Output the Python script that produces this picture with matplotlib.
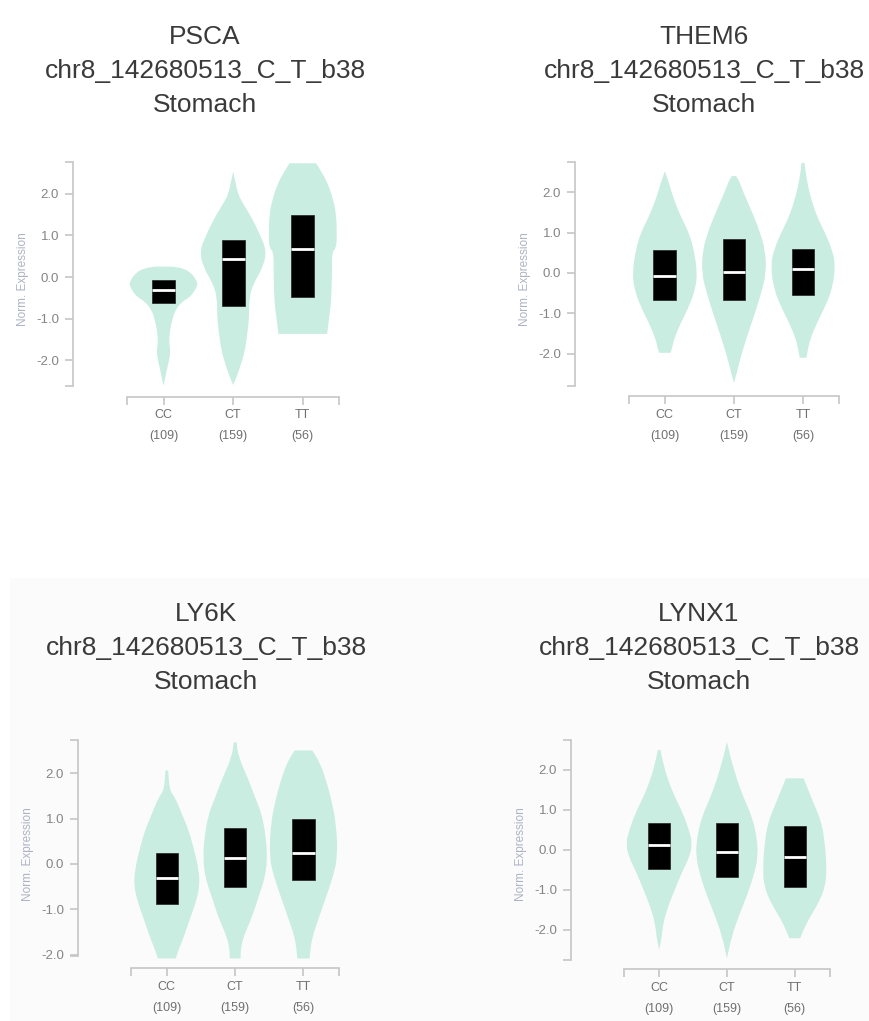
import numpy as np
import matplotlib.pyplot as plt
from matplotlib.patches import Rectangle, PathPatch
from matplotlib.path import Path

plt.rcParams['font.family'] = ['Liberation Sans', 'DejaVu Sans']

genes = ['PSCA', 'THEM6', 'LY6K', 'LYNX1']
snp = 'chr8_142680513_C_T_b38'
tissue = 'Stomach'
genotypes = ['CC', 'CT', 'TT']
counts = [109, 159, 56]
yticks = [2.0, 1.0, 0.0, -1.0, -2.0]

# box values: (q1, median, q3) for CC, CT, TT
psca_box = [(-0.63, -0.31, -0.08), (-0.70, 0.43, 0.88), (-0.48, 0.68, 1.50)]
them6_box = [(-0.68, -0.07, 0.58), (-0.68, 0.02, 0.83), (-0.55, 0.11, 0.60)]
ly6k_box = [(-0.89, -0.31, 0.24), (-0.51, 0.14, 0.80), (-0.36, 0.25, 0.98)]
lynx1_box = [(-0.48, 0.13, 0.68), (-0.67, -0.04, 0.68), (-0.92, -0.19, 0.60)]

# violin outlines: (expression, half width), top to bottom
psca_cc = [(0.25, 0.12), (0.21, 0.28), (0.1, 0.40), (-0.1, 0.48), (-0.2, 0.49),
           (-0.35, 0.44), (-0.48, 0.38), (-0.6, 0.26), (-0.8, 0.17), (-1.0, 0.13),
           (-1.3, 0.09), (-1.6, 0.08), (-1.8, 0.10), (-2.0, 0.08), (-2.3, 0.04), (-2.62, 0.0)]
psca_ct = [(2.54, 0.0), (2.3, 0.03), (2.0, 0.07), (1.8, 0.13), (1.45, 0.26), (1.04, 0.38),
           (0.64, 0.48), (0.24, 0.43), (-0.16, 0.29), (-0.5, 0.23), (-1.0, 0.23),
           (-1.4, 0.2), (-1.77, 0.17), (-2.17, 0.1), (-2.4, 0.05), (-2.6, 0.0)]
psca_tt = [(2.74, 0.19), (2.5, 0.28), (2.25, 0.36), (1.85, 0.44), (1.5, 0.48), (1.0, 0.49),
           (0.7, 0.48), (0.6, 0.42), (0.2, 0.42), (-0.56, 0.41), (-0.96, 0.38), (-1.37, 0.35)]

them6_cc = [(2.52, 0.0), (2.23, 0.06), (1.82, 0.13), (1.4, 0.23), (0.99, 0.35), (0.58, 0.42),
            (0.0, 0.47), (-0.41, 0.44), (-0.83, 0.35), (-1.24, 0.23), (-1.65, 0.13),
            (-1.9, 0.10), (-1.98, 0.08)]
them6_ct = [(2.4, 0.03), (2.3, 0.07), (1.98, 0.14), (1.4, 0.29), (0.99, 0.38), (0.58, 0.45),
            (0.0, 0.47), (-0.58, 0.38), (-1.07, 0.29), (-1.57, 0.19), (-2.07, 0.10),
            (-2.48, 0.04), (-2.73, 0.0)]
them6_tt = [(2.73, 0.02), (2.23, 0.06), (1.82, 0.12), (1.4, 0.2), (0.99, 0.32), (0.58, 0.42),
            (0.17, 0.47), (-0.41, 0.42), (-0.83, 0.32), (-1.24, 0.2), (-1.65, 0.1),
            (-1.98, 0.06), (-2.1, 0.05)]

ly6k_cc = [(2.06, 0.02), (1.62, 0.04), (1.47, 0.12), (1.1, 0.22), (0.74, 0.32), (0.37, 0.39),
           (-0.14, 0.47), (-0.5, 0.48), (-0.87, 0.42), (-1.24, 0.33), (-1.6, 0.25),
           (-1.9, 0.17), (-2.08, 0.13)]
ly6k_ct = [(2.68, 0.02), (2.35, 0.05), (1.84, 0.2), (1.47, 0.29), (1.1, 0.39), (0.59, 0.45),
           (0.15, 0.47), (-0.29, 0.44), (-0.73, 0.34), (-1.16, 0.25), (-1.6, 0.12),
           (-1.9, 0.08), (-2.08, 0.08)]
ly6k_tt = [(2.5, 0.13), (2.2, 0.25), (1.84, 0.33), (1.47, 0.4), (0.89, 0.48), (0.15, 0.5),
           (-0.29, 0.43), (-0.73, 0.33), (-1.16, 0.23), (-1.6, 0.13), (-1.9, 0.1), (-2.08, 0.09)]

lynx1_cc = [(2.5, 0.02), (2.17, 0.06), (1.75, 0.13), (1.33, 0.23), (0.92, 0.35), (0.5, 0.44),
            (0.17, 0.49), (-0.17, 0.45), (-0.58, 0.33), (-1.0, 0.23), (-1.42, 0.13),
            (-1.83, 0.06), (-2.17, 0.04), (-2.5, 0.0)]
lynx1_ct = [(2.71, 0.0), (2.33, 0.05), (1.75, 0.15), (1.33, 0.24), (0.83, 0.37), (0.33, 0.44),
            (-0.17, 0.46), (-0.67, 0.39), (-1.17, 0.29), (-1.67, 0.17), (-2.17, 0.07), (-2.71, 0.0)]
lynx1_tt = [(1.79, 0.13), (1.5, 0.2), (1.08, 0.3), (0.67, 0.4), (0.08, 0.45), (-0.5, 0.47),
            (-0.92, 0.45), (-1.33, 0.35), (-1.75, 0.2), (-2.0, 0.13), (-2.21, 0.08)]

violins = {'PSCA': [psca_cc, psca_ct, psca_tt],
           'THEM6': [them6_cc, them6_ct, them6_tt],
           'LY6K': [ly6k_cc, ly6k_ct, ly6k_tt],
           'LYNX1': [lynx1_cc, lynx1_ct, lynx1_tt]}
boxes = {'PSCA': psca_box, 'THEM6': them6_box, 'LY6K': ly6k_box, 'LYNX1': lynx1_box}

# layout in pixels: y-axis x, y-axis top, x-axis right end, x-axis y
W, H = 870, 1021
frames = {'PSCA': (73, 162, 339, 397), 'THEM6': (575, 162, 839, 396),
          'LY6K': (78, 740, 339, 968), 'LYNX1': (571, 740, 830, 969)}
ylims = {'PSCA': (-2.89, 2.77), 'THEM6': (-3.05, 2.75),
         'LY6K': (-2.29, 2.73), 'LYNX1': (-2.98, 2.75)}
ybottom = {'PSCA': -2.63, 'THEM6': -2.80, 'LY6K': -2.02, 'LYNX1': -2.75}
title_pos = {'PSCA': (205, 71), 'THEM6': (704, 71), 'LY6K': (206, 648), 'LYNX1': (699, 648)}

violin_color = '#c9ede0'
axis_color = '#c6c6c6'


# smooth outline through the read points (quadratic curves between midpoints),
# end points doubled so flat tops / bottoms keep their corners
def violin_patch(center, prof):
    prof = [prof[0]] + list(prof) + [prof[-1]]
    right = [(center + w, y) for y, w in prof]
    left = [(center - w, y) for y, w in prof[::-1]]
    pts = np.array(right + left)
    mids = (pts + np.roll(pts, -1, axis=0)) / 2
    verts = [mids[-1]]
    codes = [Path.MOVETO]
    for k in range(len(pts)):
        verts += [pts[k], mids[k]]
        codes += [Path.CURVE3, Path.CURVE3]
    verts.append(mids[-1])
    codes.append(Path.CLOSEPOLY)
    return PathPatch(Path(verts, codes), fc=violin_color, ec='none', zorder=2)


fig = plt.figure(figsize=(W / 100, H / 100), dpi=100)
fig.patches.append(Rectangle((0.012, 0), 0.988, 1 - 578 / H, transform=fig.transFigure,
                             fc='#fbfbfb', ec='none', zorder=-1))

for gene in genes:
    x0, ytop, x1, yax = frames[gene]
    ax = fig.add_axes([x0 / W, 1 - yax / H, (x1 - x0) / W, (yax - ytop) / H])
    ax.patch.set_alpha(0)

    for i, prof in enumerate(violins[gene]):
        ax.add_patch(violin_patch(i, prof))
        q1, med, q3 = boxes[gene][i]
        ax.add_patch(Rectangle((i - 0.165, q1), 0.33, q3 - q1, fc='black', ec='#222222', lw=0.5, zorder=3))
        ax.plot([i - 0.165, i + 0.165], [med, med], color='white', lw=2, zorder=4, solid_capstyle='butt')

    ax.set_xlim(-1.30, 2.52)
    ax.set_ylim(*ylims[gene])
    for s in ['top', 'right']:
        ax.spines[s].set_visible(False)
    ax.spines['left'].set_bounds(ybottom[gene], ylims[gene][1])
    ax.spines['bottom'].set_bounds(-0.52, 2.52)
    for s in ['left', 'bottom']:
        ax.spines[s].set_color(axis_color)
        ax.spines[s].set_linewidth(1.2)

    ax.set_yticks([ylims[gene][1]] + yticks + [ybottom[gene]])
    ax.set_yticklabels([''] + ['%.1f' % v for v in yticks] + [''])
    ax.set_xticks([-0.52, 0, 1, 2, 2.52])
    ax.set_xticklabels([''] + ['%s\n(%d)' % (g, n) for g, n in zip(genotypes, counts)] + [''],
                       linespacing=2.0)
    ax.tick_params(axis='y', colors=axis_color, length=6, width=1.2, pad=4,
                   labelcolor='#858585', labelsize=9.5)
    ax.tick_params(axis='x', colors=axis_color, length=6, width=1.2, pad=3,
                   labelcolor='#707070', labelsize=9)
    ax.set_ylabel('Norm. Expression', fontsize=8.5, color='#adb3c4', labelpad=5)

    tx, ty = title_pos[gene]
    fig.text(tx / W, 1 - ty / H, '%s\n%s\n%s' % (gene, snp, tissue), ha='center', va='center',
             fontsize=19, color='#3a3a3a', linespacing=1.55)

fig.savefig('out.png', dpi=100)
